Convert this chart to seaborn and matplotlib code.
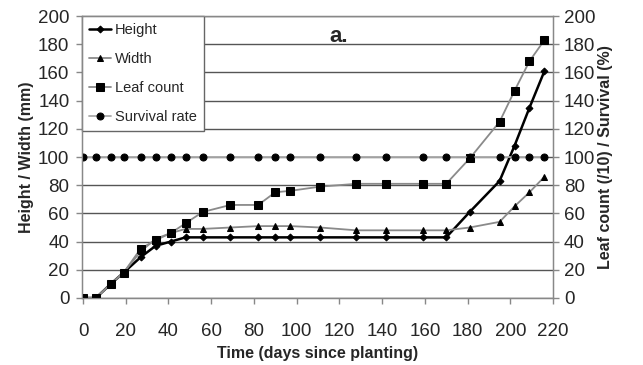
import matplotlib
matplotlib.use("Agg")
import matplotlib.pyplot as plt
import seaborn as sns
import pandas as pd

days = [0, 6, 13, 19, 27, 34, 41, 48, 56, 69, 82, 90, 97, 111, 128, 142, 159, 170, 181, 195, 202, 209, 216]
height = [0, 0, 10, 18, 29, 37, 40, 43, 43, 43, 43, 43, 43, 43, 43, 43, 43, 43, 61, 83, 108, 135, 161]
width = [0, 0, 10, 18, 33, 42, 46, 49, 49, 50, 51, 51, 51, 50, 48, 48, 48, 48, 50, 54, 65, 75, 86]
leaf = [0, 0, 10, 18, 35, 41, 46, 53, 61, 66, 66, 75, 76, 79, 81, 81, 81, 81, 99, 125, 147, 168, 183]
survival = [100] * 23

sns.set_style("white")
plt.rcParams['font.family'] = ['Liberation Sans', 'DejaVu Sans']

fig = plt.figure(figsize=(6.43, 3.65), dpi=100)
ax = fig.add_axes([0.1275, 0.1836, 0.7325, 0.7724])

df = pd.DataFrame({"day": days, "Height": height, "Width": width,
                   "Leaf count": leaf, "Survival rate": survival})

styles = [
    ("Height", "black", "black", "D", 3.5, 1.8),
    ("Width", "#8a8a8a", "black", "^", 5, 1.3),
    ("Leaf count", "#8a8a8a", "black", "s", 5.5, 1.3),
    ("Survival rate", "#aaaaaa", "black", "o", 5, 1.3),
]
for name, lc, mc, mk, ms, lw in styles:
    sns.lineplot(data=df, x="day", y=name, ax=ax, color=lc, marker=mk,
                 markersize=ms, markerfacecolor=mc, markeredgecolor=mc,
                 linewidth=lw, label=name, zorder=3)

TICK_FS = 13.5
LAB_FS = 11.5
ax.set_xlim(-0.5, 220)
ax.set_ylim(0, 200)
ax.set_xticks(range(0, 221, 20))
ax.set_yticks(range(0, 201, 20))
ax.yaxis.grid(True, color="#555555", linewidth=1.0)
ax.set_axisbelow(True)
for s in ax.spines.values():
    s.set_color("#888888")
    s.set_linewidth(1.0)
ax.tick_params(axis="both", labelsize=TICK_FS, direction="out", length=4,
               color="#888888", bottom=True, left=True, width=1)
ax.tick_params(axis="x", pad=14)
ax.tick_params(axis="y", pad=5)
ax.set_xlabel("Time (days since planting)", fontsize=LAB_FS, fontweight="bold", labelpad=4)
ax.set_ylabel("Height / Width (mm)", fontsize=LAB_FS, fontweight="bold", labelpad=3)

ax2 = ax.twinx()
ax2.set_ylim(0, 200)
ax2.set_yticks(range(0, 201, 20))
ax2.tick_params(axis="y", labelsize=TICK_FS, direction="out", length=4,
                color="#888888", right=True, width=1, pad=4)
for s in ax2.spines.values():
    s.set_color("#888888")
ax2.set_ylabel("Leaf count (/10) / Survival (%)", fontsize=LAB_FS, fontweight="bold", labelpad=2)

leg = ax.legend(loc="upper left", borderaxespad=0, fancybox=False, framealpha=1,
                edgecolor="#666666", fontsize=10.5, handlelength=1.5,
                handletextpad=0.25, labelspacing=1.02, borderpad=0.5)
leg.get_frame().set_linewidth(1.0)
leg.set_zorder(5)

ax.text(0.545, 0.965, "a.", transform=ax.transAxes, fontsize=16, fontweight="bold",
        ha="center", va="top")

fig.savefig("out.png", dpi=100)
